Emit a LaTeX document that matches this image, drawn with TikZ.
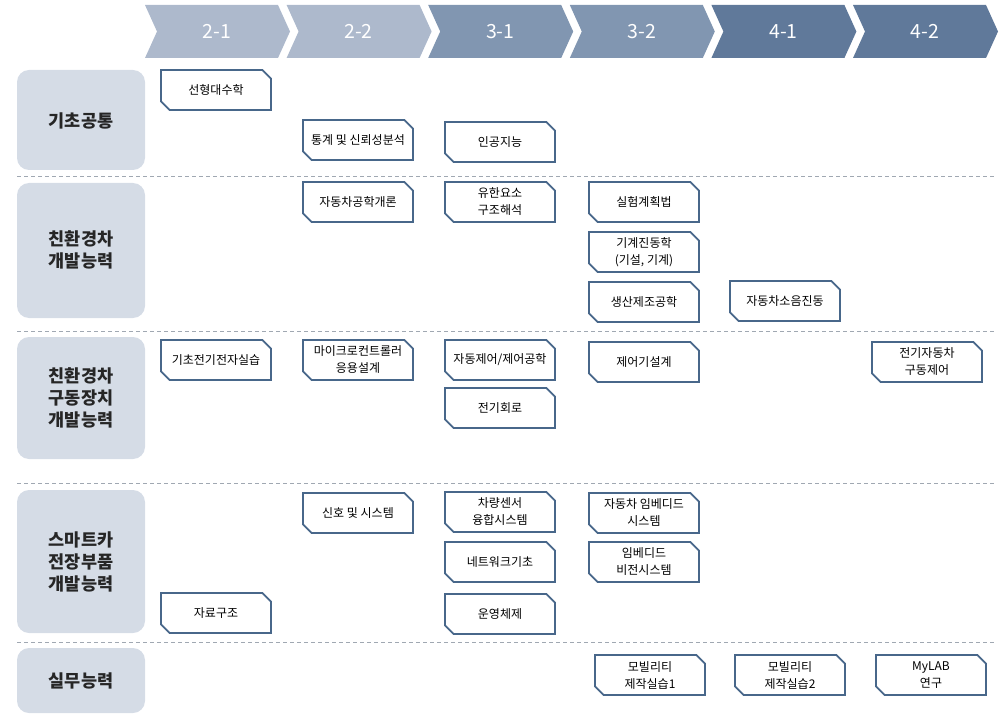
\documentclass[tikz,border=0pt]{standalone}
\usepackage{fontspec}
\setmainfont{Noto Sans CJK KR}
\usetikzlibrary{shapes.misc}

\definecolor{hdrA}{RGB}{173,185,204}
\definecolor{hdrB}{RGB}{129,150,177}
\definecolor{hdrC}{RGB}{96,121,154}
\definecolor{catfill}{RGB}{213,220,230}
\definecolor{boxline}{RGB}{72,103,138}
\definecolor{sepline}{RGB}{160,168,178}

\tikzset{
  hdrtext/.style={text=white, font=\fontsize{19.5}{20}\selectfont},
  catbox/.style={fill=catfill, rounded corners=12pt},
  cattext/.style={align=center, font=\fontsize{17.5}{22}\selectfont\bfseries, text=black!85},
  course/.style={chamfered rectangle, chamfered rectangle corners={north east,south west},
    chamfered rectangle xsep=5pt, draw=boxline, line width=1.8pt, fill=white,
    minimum width=110pt, minimum height=40pt, inner xsep=0pt, inner ysep=1pt, align=center,
    font=\fontsize{12}{17}\selectfont},
  rowsep/.style={sepline, dashed, line width=0.8pt, dash pattern=on 4pt off 3pt}
}

\begin{document}
\begin{tikzpicture}[x=1pt, y=-1pt]
    \useasboundingbox (0,0) rectangle (1008,719);

    % 학기 화살표
    \foreach \i/\lab/\col in {0/2-1/hdrA, 1/2-2/hdrA, 2/3-1/hdrB, 3/3-2/hdrB, 4/4-1/hdrC, 5/4-2/hdrC} {
        \pgfmathsetmacro{\l}{145+141.6*\i}
        \fill[\col] (\l,5) -- (\l+133,5) -- (\l+145,31.5) -- (\l+133,58) -- (\l,58) -- (\l+12,31.5) -- cycle;
        \node[hdrtext] (sem-\lab) at (\l+72,31.5) {\lab};
    }

    % 구분선
    \foreach \y in {176, 331, 483, 642}
        \draw[rowsep] (17,\y) -- (995,\y);

    % 역량 분류
    \fill[catbox] (17,70) rectangle (145,170);
    \node[cattext] (cat-base) at (81,121) {기초공통};
    \fill[catbox] (17,183) rectangle (145,318);
    \node[cattext] (cat-eco) at (81,250) {친환경차\\개발능력};
    \fill[catbox] (17,337) rectangle (145,459);
    \node[cattext] (cat-drive) at (81,398) {친환경차\\구동장치\\개발능력};
    \fill[catbox] (17,490) rectangle (145,633);
    \node[cattext] (cat-smart) at (81,562) {스마트카\\전장부품\\개발능력};
    \fill[catbox] (17,648) rectangle (145,713);
    \node[cattext] (cat-prac) at (81,681) {실무능력};

    % 기초공통
    \node[course] (linalg) at (216,90) {선형대수학};
    \node[course] (stat) at (358,140) {통계 및 신뢰성분석};
    \node[course] (ai) at (500,142) {인공지능};

    % 친환경차 개발능력
    \node[course] (autoeng) at (358,202) {자동차공학개론};
    \node[course] (fem) at (500,202) {유한요소\\구조해석};
    \node[course] (doe) at (644,202) {실험계획법};
    \node[course] (vib) at (644,252) {기계진동학\\(기설, 기계)};
    \node[course] (manuf) at (644,302) {생산제조공학};
    \node[course] (nvh) at (785,301) {자동차소음진동};

    % 친환경차 구동장치 개발능력
    \node[course] (eelab) at (216,360) {기초전기전자실습};
    \node[course] (mcu) at (358,360) {마이크로컨트롤러\\응용설계};
    \node[course] (ctrl) at (500,360) {자동제어/제어공학};
    \node[course] (ctrldes) at (644,362) {제어기설계};
    \node[course] (evctrl) at (927,362) {전기자동차\\구동제어};
    \node[course] (circuit) at (500,408) {전기회로};

    % 스마트카 전장부품 개발능력
    \node[course] (signal) at (358,513) {신호 및 시스템};
    \node[course] (sensor) at (500,512) {차량센서\\융합시스템};
    \node[course] (embed) at (644,513) {자동차 임베디드\\시스템};
    \node[course] (network) at (500,562) {네트워크기초};
    \node[course] (vision) at (644,562) {임베디드\\비전시스템};
    \node[course] (datastr) at (216,613) {자료구조};
    \node[course] (os) at (500,614) {운영체제};

    % 실무능력
    \node[course] (mob1) at (650,675) {모빌리티\\제작실습1};
    \node[course] (mob2) at (790,675) {모빌리티\\제작실습2};
    \node[course] (mylab) at (931,675) {MyLAB\\연구};
\end{tikzpicture}
\end{document}
